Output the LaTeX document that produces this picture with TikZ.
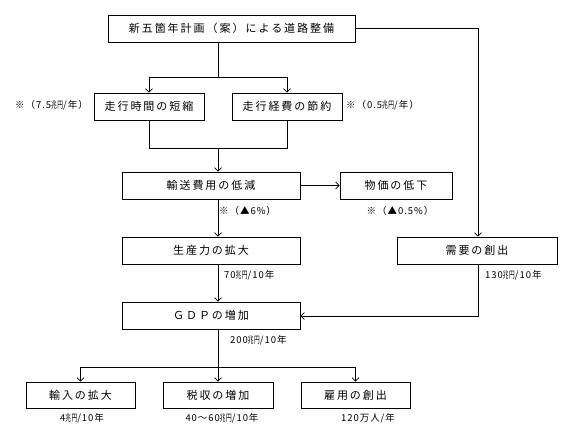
\documentclass[tikz,border=0pt]{standalone}
\usepackage{fontspec}
\setmainfont{Noto Sans CJK JP}
\newfontfamily\boxfont[LetterSpace=18]{Noto Sans CJK JP}
\newfontfamily\lblfont[LetterSpace=10]{Noto Sans CJK JP}
\usetikzlibrary{arrows.meta}
\newcommand{\chouen}{\scalebox{0.6}[1]{兆円}}
\tikzset{
  bx/.style={draw, line width=0.7pt, inner sep=0pt, font=\boxfont\fontsize{11}{13}\selectfont},
  lbl/.style={inner sep=0pt, font=\lblfont\fontsize{9.5}{11}\selectfont},
  ln/.style={line width=0.7pt},
  arr/.style={line width=0.7pt, -{Straight Barb[length=3.5pt,width=7pt]}}
}
\begin{document}
\begin{tikzpicture}[x=1pt,y=-1pt]
\useasboundingbox (0,0) rectangle (567,427);
% boxes
\node[bx, minimum width=247pt, minimum height=27pt] (top) at (231.5,28.5) {新五箇年計画（案）による道路整備};
\node[bx, minimum width=110pt, minimum height=27pt] (t1) at (149,106.5) {走行時間の短縮};
\node[bx, minimum width=110pt, minimum height=27pt] (t2) at (287,106.5) {走行経費の節約};
\node[bx, minimum width=178pt, minimum height=27pt] (yuso) at (211,185.5) {輸送費用の低減};
\node[bx, minimum width=112pt, minimum height=27pt] (bukka) at (396,185.5) {物価の低下};
\node[bx, minimum width=178pt, minimum height=27pt] (seisan) at (211,250.5) {生産力の拡大};
\node[bx, minimum width=160pt, minimum height=27pt] (juyo) at (477,250.5) {需要の創出};
\node[bx, minimum width=178pt, minimum height=27pt] (gdp) at (211,315.5) {ＧＤＰの増加};
\node[bx, minimum width=109pt, minimum height=26pt] (yunyu) at (80.5,395) {輸入の拡大};
\node[bx, minimum width=110pt, minimum height=26pt] (zei) at (218,395) {税収の増加};
\node[bx, minimum width=109pt, minimum height=26pt] (koyo) at (355.5,395) {雇用の創出};
% coordinates
\coordinate (s1) at (218,77);
\coordinate (s2) at (218,148);
\coordinate (s3) at (218,367);
\coordinate (j1) at (478,316);
% connectors
\draw[ln] (top.south -| s1) -- (s1);
\draw[arr] (s1) -| (t1.north);
\draw[arr] (s1) -| (t2.north);
\draw[ln] (t1.south) |- (s2);
\draw[ln] (t2.south) |- (s2);
\draw[arr] (s2) -- (s2 |- yuso.north);
\draw[arr] (yuso.east) -- (bukka.west);
\draw[arr] (yuso.south -| s2) -- (seisan.north -| s2);
\draw[arr] (seisan.south -| s2) -- (gdp.north -| s2);
\draw[arr] (top.east) -| (juyo.north -| j1);
\draw[arr] (juyo.south -| j1) |- (gdp.east |- j1);
\draw[ln] (gdp.south -| s3) -- (s3);
\draw[arr] (s3) -| (yunyu.north);
\draw[arr] (s3) -- (zei.north);
\draw[arr] (s3) -| (koyo.north);
% labels
\node[lbl, anchor=east] (l1) at (88,105) {※（7.5\chouen/年）};
\node[lbl, anchor=west] (l2) at (346,105) {※（0.5\chouen/年）};
\node[lbl, anchor=west] (l3) at (219,211) {※（▲6\%）};
\node[lbl] (l4) at (400,211) {※（▲0.5\%）};
\node[lbl, anchor=west] (l5) at (224,275) {70\chouen/10年};
\node[lbl, anchor=west] (l6) at (485,275) {130\chouen/10年};
\node[lbl, anchor=west] (l7) at (230,340) {200\chouen/10年};
\node[lbl] (l8) at (82,418) {4\chouen/10年};
\node[lbl] (l9) at (222,418) {40～60\chouen/10年};
\node[lbl] (l10) at (368,418) {120万人/年};
\end{tikzpicture}
\end{document}
